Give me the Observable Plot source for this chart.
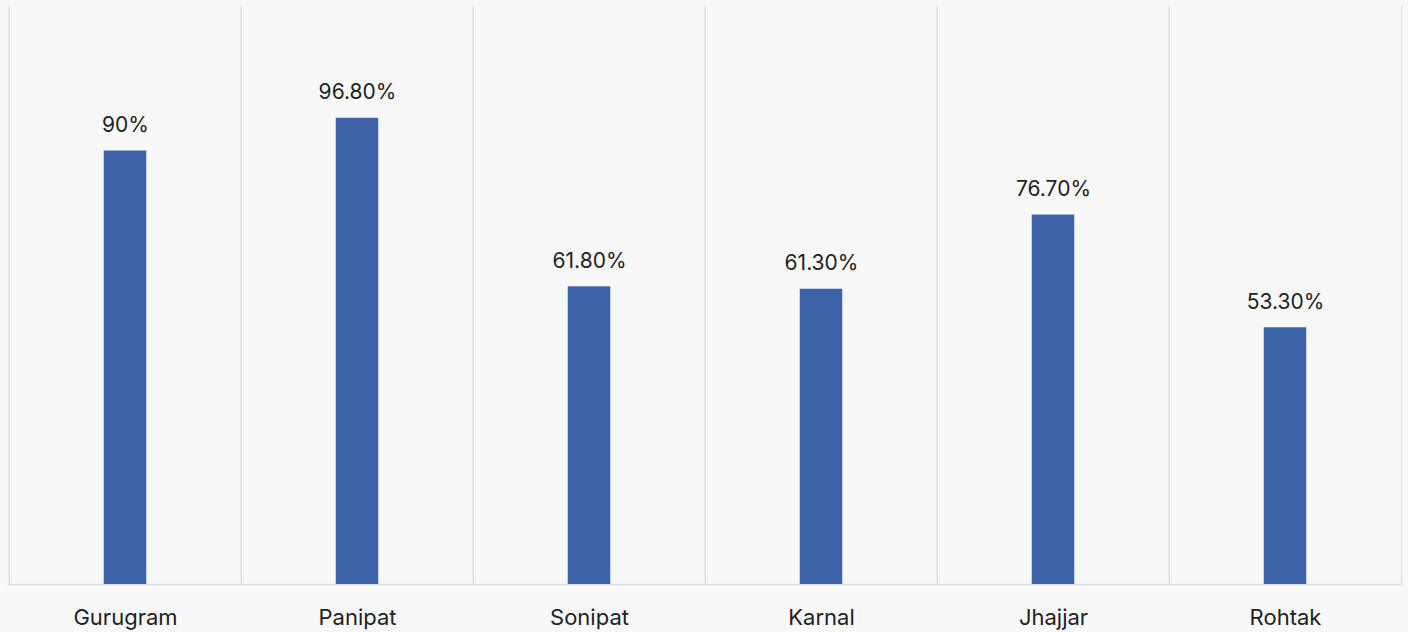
<!DOCTYPE html>
<html><head><meta charset="utf-8">
<script src="https://cdn.jsdelivr.net/npm/d3@7"></script>
<script src="https://cdn.jsdelivr.net/npm/@observablehq/plot@0.6"></script>
<style>
html,body{margin:0;padding:0;background:#f8f8f8;}
#chart svg{display:block;}
</style>
</head><body><div id="chart"></div>
<script>
const categories = ["Gurugram","Panipat","Sonipat","Karnal","Jhajjar","Rohtak"];
const values = [90, 96.8, 61.8, 61.3, 76.7, 53.3];
const valueLabels = ["90%","96.80%","61.80%","61.30%","76.70%","53.30%"];

const data = categories.map((c,i)=>({city:c, value:values[i], label:valueLabels[i]}));
const W = 1408, H = 632, ml = 7.5, mr = 5.5;
const bw = (W - ml - mr) / categories.length;
const barW = 43;
const inset = (bw - barW) / 2;

const chart = Plot.plot({
  width: W, height: H,
  marginLeft: ml, marginRight: mr, marginTop: 6, marginBottom: 48,
  style: {background: "#f8f8f8", fontFamily: "Inter, 'Noto Sans', sans-serif", color: "#222"},
  x: {domain: categories, padding: 0, label: null},
  y: {domain: [0, 120], axis: null},
  marks: [
    Plot.ruleX(categories, {x: d => d, dx: -bw/2, y1: 0, y2: 120, stroke: "#dcdcdc", strokeWidth: 1.3}),
    Plot.ruleX([categories[categories.length-1]], {x: d => d, dx: bw/2, y1: 0, y2: 120, stroke: "#dcdcdc", strokeWidth: 1.3}),
    Plot.ruleY([0], {stroke: "#dcdcdc", strokeWidth: 1.3}),
    Plot.barY(data, {x: "city", y: "value", fill: "#3e63a6", insetLeft: inset, insetRight: inset}),
    Plot.text(data, {x: "city", y: "value", text: "label", dy: -26, fontSize: 21, fill: "#222"}),
    Plot.axisX({tickSize: 0, tickPadding: 25, fontSize: 22, fill: "#222", label: null})
  ]
});
document.getElementById("chart").appendChild(chart);
</script></body></html>
